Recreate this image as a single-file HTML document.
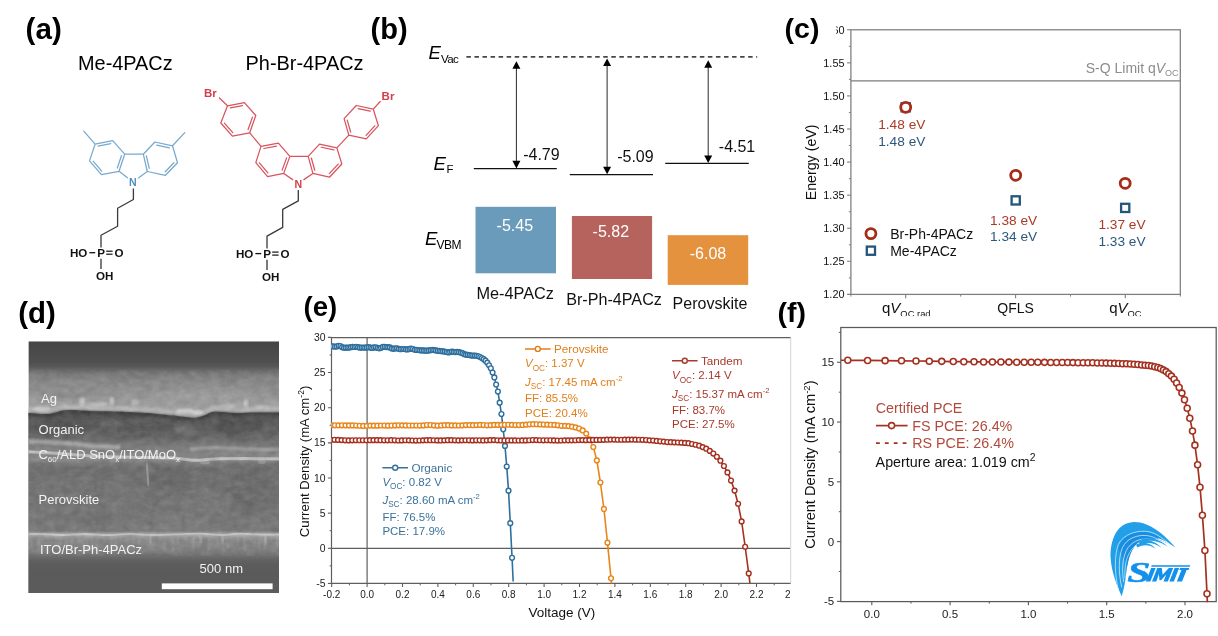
<!DOCTYPE html>
<html><head><meta charset="utf-8"><title>figure</title>
<style>
html,body{margin:0;padding:0;background:#fff;}
body{width:1218px;height:636px;overflow:hidden;font-family:"Liberation Sans",sans-serif;}
svg{display:block;font-family:"Liberation Sans",sans-serif;opacity:0.999;}
</style></head><body>
<svg width="1218" height="636" viewBox="0 0 1218 636">
<defs>
<clipPath id="clipc"><rect x="800" y="0" width="418" height="316.3"/></clipPath>
<linearGradient id="semtop" gradientUnits="userSpaceOnUse" x1="0" y1="341.3" x2="0" y2="592.9"><stop offset="0.0000" stop-color="#454545"/><stop offset="0.0346" stop-color="#494949"/><stop offset="0.0823" stop-color="#4f4f4f"/><stop offset="0.1002" stop-color="#585858"/><stop offset="0.1161" stop-color="#6a6a6a"/><stop offset="0.1320" stop-color="#7c7c7c"/><stop offset="0.1498" stop-color="#868686"/><stop offset="0.1816" stop-color="#8e8e8e"/><stop offset="0.2174" stop-color="#979797"/><stop offset="0.2492" stop-color="#9f9f9f"/><stop offset="0.2810" stop-color="#a3a3a3"/><stop offset="0.3207" stop-color="#a3a3a3"/></linearGradient>
<linearGradient id="sembot" gradientUnits="userSpaceOnUse" x1="0" y1="341.3" x2="0" y2="592.9"><stop offset="0.2492" stop-color="#4e4e4e"/><stop offset="0.2890" stop-color="#505050"/><stop offset="0.3128" stop-color="#575757"/><stop offset="0.3525" stop-color="#5e5e5e"/><stop offset="0.3843" stop-color="#666666"/><stop offset="0.4042" stop-color="#747474"/><stop offset="0.4241" stop-color="#7e7e7e"/><stop offset="0.4479" stop-color="#868686"/><stop offset="0.4718" stop-color="#8a8a8a"/><stop offset="0.4857" stop-color="#787878"/><stop offset="0.5036" stop-color="#6f6f6f"/><stop offset="0.5513" stop-color="#717171"/><stop offset="0.6308" stop-color="#747474"/><stop offset="0.7103" stop-color="#777777"/><stop offset="0.7540" stop-color="#7b7b7b"/><stop offset="0.7619" stop-color="#9a9a9a"/><stop offset="0.7699" stop-color="#adadad"/><stop offset="0.7786" stop-color="#979797"/><stop offset="0.7897" stop-color="#888888"/><stop offset="0.8215" stop-color="#838383"/><stop offset="0.8394" stop-color="#7c7c7c"/><stop offset="0.8533" stop-color="#6e6e6e"/><stop offset="0.8692" stop-color="#626262"/><stop offset="0.8891" stop-color="#5c5c5c"/><stop offset="0.9289" stop-color="#5a5a5a"/><stop offset="1.0000" stop-color="#5c5c5c"/></linearGradient>
<clipPath id="clipd"><rect x="28.4" y="341.3" width="250.6" height="251.6"/></clipPath>
<filter id="b05" x="-5%" y="-80%" width="110%" height="260%"><feGaussianBlur stdDeviation="0.6"/></filter>
<filter id="b1" x="-5%" y="-80%" width="110%" height="260%"><feGaussianBlur stdDeviation="1.1"/></filter>
<filter id="b2" x="-10%" y="-80%" width="120%" height="260%"><feGaussianBlur stdDeviation="2.2"/></filter>
<filter id="b4" x="-10%" y="-80%" width="120%" height="260%"><feGaussianBlur stdDeviation="4"/></filter>
<filter id="semnoise" x="0" y="0" width="100%" height="100%"><feTurbulence type="fractalNoise" baseFrequency="0.11 0.16" numOctaves="3" seed="11" result="n"/><feColorMatrix type="matrix" values="0 0 0 0 1  0 0 0 0 1  0 0 0 0 1  1.1 1.1 1.1 0 -1.25"/><feGaussianBlur stdDeviation="0.7"/></filter>
<filter id="semnoise2" x="0" y="0" width="100%" height="100%"><feTurbulence type="fractalNoise" baseFrequency="0.10 0.15" numOctaves="3" seed="29" result="n"/><feColorMatrix type="matrix" values="0 0 0 0 0  0 0 0 0 0  0 0 0 0 0  1.1 1.1 1.1 0 -1.25"/><feGaussianBlur stdDeviation="0.7"/></filter>
<clipPath id="clipe"><rect x="290" y="330" width="500.8" height="306"/></clipPath>
<clipPath id="clipeplot"><rect x="331.5" y="337.6" width="459.3" height="245.8"/></clipPath>
<clipPath id="clipf"><rect x="840.8" y="327.5" width="375.4" height="274.7"/></clipPath>
</defs>
<rect x="0" y="0" width="1218" height="636" fill="#fff"/>
<g id="panel-a">
<text x="25.6" y="38.6" font-size="29.6" fill="#000" font-weight="bold">(a)</text>
<text x="78" y="69.6" font-size="19.9" fill="#000">Me-4PACz</text>
<text x="245.6" y="69.6" font-size="19.9" fill="#000">Ph-Br-4PACz</text>
<path d="M95.1 144.1 L112.7 140.7 L124.7 154.2 L119 171.3 L101.4 174.7 L89.5 160.9 Z M172.5 145.8 L154.9 142 L143.3 154.2 L147.3 171.5 L165.5 175.3 L177.5 162.7 Z M124.7 154.2 L143.3 154.2 M119 171.3 L127.49 177.78 M147.3 171.5 L138.41 177.92 M98.09 146.17 L110.76 143.72 M121.44 155.75 L117.34 168.06 M101.69 171.06 L93.12 161.12 M169.43 147.8 L156.76 145.06 M146.36 155.9 L149.24 168.36 M165.27 171.78 L173.91 162.7 M95.1 144.1 L83.8 131.1 M172.5 145.8 L184.8 132.6" fill="none" stroke="#78a9cc" stroke-width="1.25" stroke-linecap="round" stroke-linejoin="round"/>
<text x="132.9" y="185.9" font-size="10.6" fill="#4e8fbc" font-weight="bold" text-anchor="middle">N</text>
<path d="M133.4 188.6 L133.4 199.5 L117.6 208.2 L117.6 226.3 L101 235.3 L101 247.6" fill="none" stroke="#3a3a3a" stroke-width="1.3" stroke-linejoin="round"/>
<path d="M261 146.4 L278.4 143.2 L289.9 156.4 L283.7 173.4 L267.6 176.6 L255.8 162.6 Z M336.9 147.9 L319.5 144.2 L308.2 156.4 L312.9 173.4 L329.5 177.2 L341.8 164 Z M289.9 156.4 L308.2 156.4 M283.7 173.4 L292.71 179.63 M312.9 173.4 L303.89 179.63 M263.95 148.5 L276.48 146.2 M286.59 157.89 L282.13 170.13 M267.89 172.91 L259.39 162.83 M333.87 149.91 L321.34 147.25 M311.34 158.02 L314.73 170.26 M329.32 173.58 L338.17 164.08 M227.5 105.8 L244.4 102.6 L255.8 115.5 L249.7 132.8 L232.4 136.2 L220.8 123 Z M373.3 109.2 L356.3 105.5 L344.1 118.7 L348.8 135.1 L366.3 138.9 L378.4 125.7 Z M249.7 132.8 L261.0 146.4 M348.8 135.1 L336.9 147.9 M227.5 105.8 L219.4 98.0 M373.3 109.2 L380.2 101.5 M230.29 107.92 L242.46 105.61 M252.48 117.09 L248.09 129.55 M232.74 132.65 L224.39 123.14 M370.31 111.21 L358.07 108.54 M347.23 120.2 L350.62 132.01 M366.07 135.3 L374.78 125.8" fill="none" stroke="#d8545e" stroke-width="1.25" stroke-linecap="round" stroke-linejoin="round"/>
<text x="298.3" y="187.5" font-size="10.6" fill="#d23f4b" font-weight="bold" text-anchor="middle">N</text>
<path d="M298.3 190 L298.3 200.9 L282.7 209.4 L282.7 227.4 L267 236.1 L267 248.4" fill="none" stroke="#3a3a3a" stroke-width="1.3" stroke-linejoin="round"/>
<text x="204" y="97.4" font-size="11.5" fill="#d23f4b" font-weight="bold">Br</text>
<text x="381.6" y="100.3" font-size="11.5" fill="#d23f4b" font-weight="bold">Br</text>
<text x="101" y="256.8" font-size="11.6" fill="#111" font-weight="bold" text-anchor="middle">P</text>
<text x="87.4" y="256.8" font-size="11.6" fill="#111" font-weight="bold" text-anchor="end">HO</text>
<text x="114.4" y="256.8" font-size="11.6" fill="#111" font-weight="bold">O</text>
<line x1="89.4" y1="252.7" x2="95.2" y2="252.7" stroke="#111" stroke-width="1.3"/>
<line x1="106.2" y1="251.2" x2="112.6" y2="251.2" stroke="#111" stroke-width="1.2"/>
<line x1="106.2" y1="254.2" x2="112.6" y2="254.2" stroke="#111" stroke-width="1.2"/>
<line x1="101" y1="258.8" x2="101" y2="269" stroke="#333" stroke-width="1.3"/>
<text x="96" y="279.8" font-size="11.6" fill="#111" font-weight="bold">OH</text>
<text x="267" y="257.7" font-size="11.6" fill="#111" font-weight="bold" text-anchor="middle">P</text>
<text x="253.4" y="257.7" font-size="11.6" fill="#111" font-weight="bold" text-anchor="end">HO</text>
<text x="280.4" y="257.7" font-size="11.6" fill="#111" font-weight="bold">O</text>
<line x1="255.4" y1="253.6" x2="261.2" y2="253.6" stroke="#111" stroke-width="1.3"/>
<line x1="272.2" y1="252.1" x2="278.6" y2="252.1" stroke="#111" stroke-width="1.2"/>
<line x1="272.2" y1="255.1" x2="278.6" y2="255.1" stroke="#111" stroke-width="1.2"/>
<line x1="267" y1="259.7" x2="267" y2="269.9" stroke="#333" stroke-width="1.3"/>
<text x="262" y="280.7" font-size="11.6" fill="#111" font-weight="bold">OH</text>
</g>
<g id="panel-b">
<text x="370.6" y="39" font-size="29" fill="#000" font-weight="bold">(b)</text>
<text x="428.6" y="58.8" font-size="18.5" fill="#000" font-style="italic">E</text>
<text x="441" y="63.4" font-size="11.6" fill="#000" letter-spacing="-0.6">Vac</text>
<line x1="466.4" y1="56.9" x2="757.2" y2="56.9" stroke="#474747" stroke-width="1.65" stroke-dasharray="4.5 3.55"/>
<text x="433.6" y="169.9" font-size="18.5" fill="#000" font-style="italic">E</text>
<text x="446.6" y="173.3" font-size="11.4" fill="#000">F</text>
<text x="425" y="245.3" font-size="18.5" fill="#000" font-style="italic">E</text>
<text x="436.6" y="248.9" font-size="12" fill="#000" letter-spacing="-0.5">VBM</text>
<line x1="473.8" y1="168.7" x2="556.8" y2="168.7" stroke="#111" stroke-width="1.25"/>
<line x1="569.8" y1="174.6" x2="653" y2="174.6" stroke="#111" stroke-width="1.25"/>
<line x1="665.2" y1="163.4" x2="748.8" y2="163.4" stroke="#111" stroke-width="1.25"/>
<line x1="516.4" y1="67.8" x2="516.4" y2="161.8" stroke="#111" stroke-width="0.9"/>
<path d="M516.4 61.2 l-4 7.6 l8 0 Z" fill="#000"/>
<path d="M516.4 168.4 l-4 -7.6 l8 0 Z" fill="#000"/>
<line x1="607.1" y1="65" x2="607.1" y2="167.7" stroke="#111" stroke-width="0.9"/>
<path d="M607.1 58.4 l-4 7.6 l8 0 Z" fill="#000"/>
<path d="M607.1 174.3 l-4 -7.6 l8 0 Z" fill="#000"/>
<line x1="708.2" y1="66.8" x2="708.2" y2="156.5" stroke="#111" stroke-width="0.9"/>
<path d="M708.2 60.2 l-4 7.6 l8 0 Z" fill="#000"/>
<path d="M708.2 163.1 l-4 -7.6 l8 0 Z" fill="#000"/>
<text x="523.2" y="160" font-size="16" fill="#111">-4.79</text>
<text x="617.2" y="162.2" font-size="16" fill="#111">-5.09</text>
<text x="718.8" y="151.8" font-size="16" fill="#111">-4.51</text>
<rect x="475.5" y="206.8" width="80.5" height="66.5" fill="#6a9bba"/>
<rect x="571.9" y="216" width="80.2" height="63" fill="#b6625d"/>
<rect x="667.7" y="235.2" width="80.5" height="49.7" fill="#e4923e"/>
<text x="514.8" y="230.6" font-size="16" fill="#fff" text-anchor="middle">-5.45</text>
<text x="610.8" y="236.6" font-size="16" fill="#fff" text-anchor="middle">-5.82</text>
<text x="708" y="258.7" font-size="16" fill="#fff" text-anchor="middle">-6.08</text>
<text x="476.4" y="298.6" font-size="16.3" fill="#111">Me-4PACz</text>
<text x="566.2" y="305" font-size="16.15" fill="#111">Br-Ph-4PACz</text>
<text x="672.6" y="308.9" font-size="16" fill="#111">Perovskite</text>
</g>
<g id="panel-c" clip-path="url(#clipc)">
<rect x="850.9" y="29.8" width="329.4" height="264.6" fill="none" stroke="#7d7d7d" stroke-width="1.25"/>
<line x1="850.9" y1="80.9" x2="1180.3" y2="80.9" stroke="#7d7d7d" stroke-width="1.4"/>
<line x1="847.1" y1="294.4" x2="850.9" y2="294.4" stroke="#7d7d7d" stroke-width="1.1"/>
<text x="844.5" y="298.3" font-size="10.9" fill="#111" text-anchor="end">1.20</text>
<line x1="847.1" y1="261.32" x2="850.9" y2="261.32" stroke="#7d7d7d" stroke-width="1.1"/>
<text x="844.5" y="265.22" font-size="10.9" fill="#111" text-anchor="end">1.25</text>
<line x1="847.1" y1="228.24" x2="850.9" y2="228.24" stroke="#7d7d7d" stroke-width="1.1"/>
<text x="844.5" y="232.14" font-size="10.9" fill="#111" text-anchor="end">1.30</text>
<line x1="847.1" y1="195.16" x2="850.9" y2="195.16" stroke="#7d7d7d" stroke-width="1.1"/>
<text x="844.5" y="199.06" font-size="10.9" fill="#111" text-anchor="end">1.35</text>
<line x1="847.1" y1="162.08" x2="850.9" y2="162.08" stroke="#7d7d7d" stroke-width="1.1"/>
<text x="844.5" y="165.98" font-size="10.9" fill="#111" text-anchor="end">1.40</text>
<line x1="847.1" y1="129" x2="850.9" y2="129" stroke="#7d7d7d" stroke-width="1.1"/>
<text x="844.5" y="132.9" font-size="10.9" fill="#111" text-anchor="end">1.45</text>
<line x1="847.1" y1="95.92" x2="850.9" y2="95.92" stroke="#7d7d7d" stroke-width="1.1"/>
<text x="844.5" y="99.82" font-size="10.9" fill="#111" text-anchor="end">1.50</text>
<line x1="847.1" y1="62.84" x2="850.9" y2="62.84" stroke="#7d7d7d" stroke-width="1.1"/>
<text x="844.5" y="66.74" font-size="10.9" fill="#111" text-anchor="end">1.55</text>
<line x1="847.1" y1="29.76" x2="850.9" y2="29.76" stroke="#7d7d7d" stroke-width="1.1"/>
<text x="844.5" y="33.66" font-size="10.9" fill="#111" text-anchor="end">1.60</text>
<line x1="848.9" y1="277.86" x2="850.9" y2="277.86" stroke="#7d7d7d" stroke-width="1"/>
<line x1="848.9" y1="244.78" x2="850.9" y2="244.78" stroke="#7d7d7d" stroke-width="1"/>
<line x1="848.9" y1="211.7" x2="850.9" y2="211.7" stroke="#7d7d7d" stroke-width="1"/>
<line x1="848.9" y1="178.62" x2="850.9" y2="178.62" stroke="#7d7d7d" stroke-width="1"/>
<line x1="848.9" y1="145.54" x2="850.9" y2="145.54" stroke="#7d7d7d" stroke-width="1"/>
<line x1="848.9" y1="112.46" x2="850.9" y2="112.46" stroke="#7d7d7d" stroke-width="1"/>
<line x1="848.9" y1="79.38" x2="850.9" y2="79.38" stroke="#7d7d7d" stroke-width="1"/>
<line x1="848.9" y1="46.3" x2="850.9" y2="46.3" stroke="#7d7d7d" stroke-width="1"/>
<line x1="905.7" y1="294.4" x2="905.7" y2="298.2" stroke="#7d7d7d" stroke-width="1.1"/>
<line x1="1015.6" y1="294.4" x2="1015.6" y2="298.2" stroke="#7d7d7d" stroke-width="1.1"/>
<line x1="1125.3" y1="294.4" x2="1125.3" y2="298.2" stroke="#7d7d7d" stroke-width="1.1"/>
<line x1="960.7" y1="294.4" x2="960.7" y2="296.6" stroke="#7d7d7d" stroke-width="1"/>
<line x1="1070.5" y1="294.4" x2="1070.5" y2="296.6" stroke="#7d7d7d" stroke-width="1"/>
<line x1="1180.3" y1="294.4" x2="1180.3" y2="296.6" stroke="#7d7d7d" stroke-width="1"/>
<line x1="850.9" y1="294.4" x2="850.9" y2="296.6" stroke="#7d7d7d" stroke-width="1"/>
<text x="882" y="313.4" font-size="15" fill="#111">q<tspan font-style="italic">V</tspan><tspan font-size="9.4" dy="3.7">OC.rad</tspan></text>
<text x="1015.6" y="313" font-size="14" fill="#111" text-anchor="middle">QFLS</text>
<text x="1109.2" y="313.4" font-size="15" fill="#111">q<tspan font-style="italic">V</tspan><tspan font-size="9.4" dy="3.7">OC</tspan></text>
<text x="0" y="0" font-size="14.2" fill="#111" text-anchor="middle" transform="translate(815.9 162.4) rotate(-90)">Energy (eV)</text>
<text x="1178.6" y="73" font-size="14" fill="#8c8c8c" text-anchor="end">S-Q Limit q<tspan font-style="italic">V</tspan><tspan font-size="9" dy="2.8">OC</tspan></text>
<rect x="901.6" y="103.2" width="8.2" height="8.2" fill="#fff" stroke="#24557a" stroke-width="2.3"/>
<circle cx="905.7" cy="107.3" r="5.0" fill="#fff" stroke="#a62c18" stroke-width="2.8"/>
<circle cx="1015.7" cy="175.3" r="5.0" fill="#fff" stroke="#a62c18" stroke-width="2.8"/>
<rect x="1011.6" y="196.3" width="8.2" height="8.2" fill="#fff" stroke="#24557a" stroke-width="2.3"/>
<circle cx="1125.2" cy="183.3" r="5.0" fill="#fff" stroke="#a62c18" stroke-width="2.8"/>
<rect x="1121.1" y="203.8" width="8.2" height="8.2" fill="#fff" stroke="#24557a" stroke-width="2.3"/>
<circle cx="870.9" cy="233.6" r="5.0" fill="#fff" stroke="#a62c18" stroke-width="2.8"/>
<rect x="866.8" y="246.6" width="8.2" height="8.2" fill="#fff" stroke="#24557a" stroke-width="2.3"/>
<text x="890.2" y="238.6" font-size="14" fill="#111">Br-Ph-4PACz</text>
<text x="890.2" y="255.6" font-size="14" fill="#111">Me-4PACz</text>
<text x="901.8" y="129.4" font-size="13.7" fill="#ab3a26" text-anchor="middle">1.48 eV</text>
<text x="901.8" y="146" font-size="13.7" fill="#2d587c" text-anchor="middle">1.48 eV</text>
<text x="1013.6" y="225" font-size="13.7" fill="#ab3a26" text-anchor="middle">1.38 eV</text>
<text x="1013.6" y="241" font-size="13.7" fill="#2d587c" text-anchor="middle">1.34 eV</text>
<text x="1122" y="229.2" font-size="13.7" fill="#ab3a26" text-anchor="middle">1.37 eV</text>
<text x="1122" y="245.8" font-size="13.7" fill="#2d587c" text-anchor="middle">1.33 eV</text>
</g>
<rect x="780" y="0" width="56.2" height="40" fill="#fff"/>
<text x="784.6" y="37.6" font-size="28.5" fill="#000" font-weight="bold">(c)</text>
<g id="panel-d">
<text x="18.2" y="323.2" font-size="29.4" fill="#000" font-weight="bold">(d)</text>
<g clip-path="url(#clipd)">
<rect x="28.4" y="341.3" width="250.6" height="251.6" fill="url(#semtop)"/>
<path d="M20 409.6 C21.33 409.63 23.22 409.6 28 409.8 C32.78 410 42.5 411.27 48.7 410.8 C54.9 410.33 58.32 407.5 65.2 407 C72.08 406.5 80.7 407.53 90 407.8 C99.3 408.07 110.67 408.2 121 408.6 C131.33 409 143.37 409.57 152 410.2 C160.63 410.83 165.88 411.67 172.8 412.4 C179.72 413.13 188.32 414.57 193.5 414.6 C198.68 414.63 200.45 413.6 203.9 412.6 C207.35 411.6 209.03 409.08 214.2 408.6 C219.37 408.12 228 409.6 234.9 409.7 C241.8 409.8 248.08 409.27 255.6 409.2 C263.12 409.13 274.27 409.28 280 409.3 C285.73 409.32 288.33 409.3 290 409.3" fill="none" stroke="#bdbdbd" stroke-width="5" filter="url(#b1)" opacity="0.75"/>
<ellipse cx="82" cy="402" rx="3" ry="4.5" fill="#dedede" opacity="0.65" filter="url(#b1)"/>
<ellipse cx="112" cy="401.5" rx="2.6" ry="4.5" fill="#dedede" opacity="0.6" filter="url(#b1)"/>
<ellipse cx="97" cy="404" rx="12" ry="2.2" fill="#dedede" opacity="0.5" filter="url(#b1)"/>
<ellipse cx="185" cy="411" rx="9" ry="2.6" fill="#dedede" opacity="0.75" filter="url(#b1)"/>
<ellipse cx="198" cy="412.5" rx="6" ry="2.4" fill="#dedede" opacity="0.7" filter="url(#b1)"/>
<ellipse cx="246" cy="403" rx="2.6" ry="4" fill="#dedede" opacity="0.55" filter="url(#b1)"/>
<ellipse cx="42" cy="408.5" rx="9" ry="2.4" fill="#dedede" opacity="0.55" filter="url(#b1)"/>
<ellipse cx="135" cy="402" rx="4" ry="3" fill="#dedede" opacity="0.4" filter="url(#b1)"/>
<ellipse cx="228" cy="406" rx="8" ry="2.4" fill="#dedede" opacity="0.4" filter="url(#b1)"/>
<ellipse cx="262" cy="407" rx="8" ry="2.2" fill="#dedede" opacity="0.4" filter="url(#b1)"/>
<ellipse cx="70" cy="392" rx="34" ry="6" fill="#868686" opacity="0.35" filter="url(#b2)"/>
<ellipse cx="200" cy="394" rx="50" ry="7" fill="#a8a8a8" opacity="0.35" filter="url(#b2)"/>
<path d="M20 412.8 C21.33 412.83 23.22 412.8 28 413 C32.78 413.2 42.5 414.47 48.7 414 C54.9 413.53 58.32 410.7 65.2 410.2 C72.08 409.7 80.7 410.73 90 411 C99.3 411.27 110.67 411.4 121 411.8 C131.33 412.2 143.37 412.77 152 413.4 C160.63 414.03 165.88 414.87 172.8 415.6 C179.72 416.33 188.32 417.77 193.5 417.8 C198.68 417.83 200.45 416.8 203.9 415.8 C207.35 414.8 209.03 412.28 214.2 411.8 C219.37 411.32 228 412.8 234.9 412.9 C241.8 413 248.08 412.47 255.6 412.4 C263.12 412.33 274.27 412.48 280 412.5 C285.73 412.52 288.33 412.5 290 412.5 L290 600 L20 600 Z" fill="url(#sembot)"/>
<path d="M20 414.1 C21.33 414.13 23.22 414.1 28 414.3 C32.78 414.5 42.5 415.77 48.7 415.3 C54.9 414.83 58.32 412 65.2 411.5 C72.08 411 80.7 412.03 90 412.3 C99.3 412.57 110.67 412.7 121 413.1 C131.33 413.5 143.37 414.07 152 414.7 C160.63 415.33 165.88 416.17 172.8 416.9 C179.72 417.63 188.32 419.07 193.5 419.1 C198.68 419.13 200.45 418.1 203.9 417.1 C207.35 416.1 209.03 413.58 214.2 413.1 C219.37 412.62 228 414.1 234.9 414.2 C241.8 414.3 248.08 413.77 255.6 413.7 C263.12 413.63 274.27 413.78 280 413.8 C285.73 413.82 288.33 413.8 290 413.8" fill="none" stroke="#3a3a3a" stroke-width="2.6" filter="url(#b1)" opacity="0.8"/>
<ellipse cx="60" cy="426" rx="26" ry="7" fill="#505050" opacity="0.45" filter="url(#b2)"/>
<ellipse cx="150" cy="431" rx="36" ry="6" fill="#585858" opacity="0.4" filter="url(#b2)"/>
<ellipse cx="240" cy="427" rx="28" ry="8" fill="#4d4d4d" opacity="0.5" filter="url(#b2)"/>
<ellipse cx="185" cy="430" rx="11" ry="6" fill="#7e7e7e" opacity="0.5" filter="url(#b2)"/>
<ellipse cx="262" cy="434" rx="8" ry="5" fill="#7c7c7c" opacity="0.4" filter="url(#b2)"/>
<ellipse cx="112" cy="425" rx="12" ry="5" fill="#767676" opacity="0.35" filter="url(#b2)"/>
<ellipse cx="215" cy="437" rx="12" ry="4" fill="#787878" opacity="0.4" filter="url(#b2)"/>
<ellipse cx="90" cy="437" rx="16" ry="4" fill="#787878" opacity="0.3" filter="url(#b2)"/>
<path d="M20 451.4 C21.33 451.45 21.33 451.33 28 451.7 C34.67 452.07 49.67 452.9 60 453.6 C70.33 454.3 78.33 455.3 90 455.9 C101.67 456.5 116.2 456.87 130 457.2 C143.8 457.53 162.22 457.4 172.8 457.9 C183.38 458.4 186.63 460.02 193.5 460.2 C200.37 460.38 205.42 459.27 214 459 C222.58 458.73 234 458.6 245 458.6 C256 458.6 272.5 458.93 280 459 C287.5 459.07 288.33 459 290 459" fill="none" stroke="#c6c6c6" stroke-width="3.0" filter="url(#b05)" opacity="0.9"/>
<path d="M20 441.2 C21.33 441.23 19.77 441.02 28 441.4 C36.23 441.78 58.23 442.73 69.4 443.5 C80.57 444.27 86.57 445.33 95 446 C103.43 446.67 115.83 447.25 120 447.5" fill="none" stroke="#b0b0b0" stroke-width="4.6" filter="url(#b1)" opacity="0.85"/>
<path d="M190 449.5 C194 449.18 204 447.68 214 447.6 C224 447.52 239 448.63 250 449 C261 449.37 273.33 449.63 280 449.8 C286.67 449.97 288.33 449.97 290 450" fill="none" stroke="#acacac" stroke-width="3.0" filter="url(#b1)" opacity="0.8"/>
<ellipse cx="262" cy="462" rx="4" ry="2" fill="#c8c8c8" opacity="0.3" filter="url(#b05)"/>
<ellipse cx="205" cy="462.5" rx="5" ry="1.8" fill="#c8c8c8" opacity="0.3" filter="url(#b05)"/>
<ellipse cx="55" cy="497" rx="22" ry="22" fill="#7b7b7b" opacity="0.35" filter="url(#b2)"/>
<ellipse cx="86" cy="486" rx="14" ry="12" fill="#7c7c7c" opacity="0.3" filter="url(#b2)"/>
<ellipse cx="118" cy="500" rx="16" ry="30" fill="#7d7d7d" opacity="0.3" filter="url(#b2)"/>
<ellipse cx="172" cy="478" rx="22" ry="12" fill="#636363" opacity="0.4" filter="url(#b2)"/>
<ellipse cx="205" cy="503" rx="28" ry="18" fill="#7d7d7d" opacity="0.4" filter="url(#b2)"/>
<ellipse cx="252" cy="492" rx="22" ry="26" fill="#666666" opacity="0.35" filter="url(#b2)"/>
<ellipse cx="170" cy="521" rx="12" ry="9" fill="#858585" opacity="0.45" filter="url(#b2)"/>
<ellipse cx="193" cy="524" rx="9" ry="8" fill="#888888" opacity="0.4" filter="url(#b2)"/>
<ellipse cx="98" cy="520" rx="18" ry="9" fill="#686868" opacity="0.3" filter="url(#b2)"/>
<ellipse cx="262" cy="522" rx="14" ry="9" fill="#808080" opacity="0.35" filter="url(#b2)"/>
<ellipse cx="40" cy="522" rx="10" ry="9" fill="#7e7e7e" opacity="0.3" filter="url(#b2)"/>
<path d="M146.6 463 L148.6 486" stroke="#a2a2a2" stroke-width="2.2" fill="none" filter="url(#b05)" opacity="0.7"/>
<path d="M96 466 C92 490 100 510 96 532 M158 500 C150 512 152 522 150 532 M158 500 C176 494 196 484 214 486 C232 488 238 500 252 506" fill="none" stroke="#5c5c5c" stroke-width="1.6" opacity="0.3" filter="url(#b1)"/>
<path d="M20 534.6 C23.33 534.47 33 533.73 40 533.8 C47 533.87 54.5 534.97 62 535 C69.5 535.03 77 533.97 85 534 C93 534.03 102.5 535.23 110 535.2 C117.5 535.17 123.33 533.83 130 533.8 C136.67 533.77 142.5 534.9 150 535 C157.5 535.1 166.67 534.63 175 534.4 C183.33 534.17 192.17 533.5 200 533.6 C207.83 533.7 215.33 535 222 535 C228.67 535 233.33 533.67 240 533.6 C246.67 533.53 253.67 534.5 262 534.6 C270.33 534.7 285.33 534.27 290 534.2" fill="none" stroke="#cacaca" stroke-width="1.8" filter="url(#b05)" opacity="0.9"/>
<path d="M31 535.5 l0.39 12.47 M38.87 535.5 l0.38 16.31 M47.45 535.5 l-0.06 5.35 M56.13 535.5 l0.64 12.79 M60.26 535.5 l-0.41 10.63 M66.75 535.5 l-0.78 11.89 M71.44 535.5 l0.67 8.35 M79.15 535.5 l0.48 6.92 M83.41 535.5 l-0.6 12.41 M86.92 535.5 l-0.46 15.46 M91.61 535.5 l0.6 16.79 M96.7 535.5 l0.06 16.54 M103.93 535.5 l0.71 7.46 M111.23 535.5 l0.63 16.6 M116.37 535.5 l-0.53 9.33 M120.67 535.5 l-0.32 5.78 M127.49 535.5 l0.28 5.04 M132.85 535.5 l0.51 8.72 M138.99 535.5 l-0.03 8.79 M146.37 535.5 l0.76 5.68 M149.99 535.5 l0.55 14 M153.59 535.5 l-0.21 14.45 M160.27 535.5 l-0.73 5.11 M164.77 535.5 l-0.49 16.46 M172.43 535.5 l0.71 16.16 M177.82 535.5 l0.04 9.26 M185.59 535.5 l0.4 6.3 M193.47 535.5 l-0.74 15.32 M202.17 535.5 l-0.25 6.09 M209.03 535.5 l-0.26 16.02 M217.62 535.5 l-0.3 11.54 M222.86 535.5 l-0.67 7.13 M227.18 535.5 l0.79 13.27 M231.56 535.5 l0.78 5.58 M238 535.5 l-0.42 9.87 M244.77 535.5 l-0.07 14.92 M250.59 535.5 l0.67 5.67 M254.27 535.5 l0.54 10.92 M258.48 535.5 l0.72 13.78 M265.45 535.5 l-0.63 14.46 M271.34 535.5 l0.55 6.79 M276.46 535.5 l0.8 10.44" fill="none" stroke="#b0b0b0" stroke-width="1.9" opacity="0.38" filter="url(#b1)"/>
<path d="M222 534.5 l1 9" stroke="#d0d0d0" stroke-width="1.8" opacity="0.5" filter="url(#b1)"/>
<path d="M200 534.5 l1 9" stroke="#d0d0d0" stroke-width="1.8" opacity="0.5" filter="url(#b1)"/>
<path d="M265 534.5 l1 9" stroke="#d0d0d0" stroke-width="1.8" opacity="0.5" filter="url(#b1)"/>
<path d="M150 534.5 l1 9" stroke="#d0d0d0" stroke-width="1.8" opacity="0.5" filter="url(#b1)"/>
<rect x="28.4" y="370" width="250.6" height="186" fill="#fff" filter="url(#semnoise)" opacity="0.085"/>
<rect x="28.4" y="370" width="250.6" height="186" fill="#000" filter="url(#semnoise2)" opacity="0.075"/>
</g>
<text x="41" y="403" font-size="13" fill="#f2f2f2">Ag</text>
<text x="38.6" y="434.2" font-size="13" fill="#f2f2f2">Organic</text>
<text x="38.4" y="458.8" font-size="13" fill="#f2f2f2">C<tspan font-size="8" dy="3">60</tspan><tspan dy="-3">/ALD SnO</tspan><tspan font-size="8" dy="3">x</tspan><tspan dy="-3">/ITO/MoO</tspan><tspan font-size="8" dy="3">x</tspan></text>
<text x="38.6" y="504" font-size="13" fill="#f2f2f2">Perovskite</text>
<text x="40" y="554" font-size="13" fill="#f2f2f2">ITO/Br-Ph-4PACz</text>
<text x="199.6" y="573.4" font-size="13" fill="#f2f2f2">500 nm</text>
<rect x="161.8" y="583.4" width="110.8" height="5.8" fill="#ffffff"/>
</g>
<g id="panel-e" clip-path="url(#clipe)">
<path d="M830.7 337.6 L331.5 337.6 L331.5 583.4 L830.7 583.4" fill="none" stroke="#5f5f5f" stroke-width="1.2"/>
<line x1="367.1" y1="337.6" x2="367.1" y2="583.4" stroke="#5f5f5f" stroke-width="1.2"/>
<line x1="331.5" y1="548.3" x2="790.7" y2="548.3" stroke="#5f5f5f" stroke-width="1.2"/>
<line x1="331.7" y1="583.4" x2="331.7" y2="587" stroke="#5f5f5f" stroke-width="1.1"/>
<text x="331.7" y="597.6" font-size="10" fill="#222" text-anchor="middle">-0.2</text>
<line x1="349.4" y1="583.4" x2="349.4" y2="585.3" stroke="#5f5f5f" stroke-width="1"/>
<line x1="367.1" y1="583.4" x2="367.1" y2="587" stroke="#5f5f5f" stroke-width="1.1"/>
<text x="367.1" y="597.6" font-size="10" fill="#222" text-anchor="middle">0.0</text>
<line x1="384.8" y1="583.4" x2="384.8" y2="585.3" stroke="#5f5f5f" stroke-width="1"/>
<line x1="402.5" y1="583.4" x2="402.5" y2="587" stroke="#5f5f5f" stroke-width="1.1"/>
<text x="402.5" y="597.6" font-size="10" fill="#222" text-anchor="middle">0.2</text>
<line x1="420.2" y1="583.4" x2="420.2" y2="585.3" stroke="#5f5f5f" stroke-width="1"/>
<line x1="437.9" y1="583.4" x2="437.9" y2="587" stroke="#5f5f5f" stroke-width="1.1"/>
<text x="437.9" y="597.6" font-size="10" fill="#222" text-anchor="middle">0.4</text>
<line x1="455.6" y1="583.4" x2="455.6" y2="585.3" stroke="#5f5f5f" stroke-width="1"/>
<line x1="473.3" y1="583.4" x2="473.3" y2="587" stroke="#5f5f5f" stroke-width="1.1"/>
<text x="473.3" y="597.6" font-size="10" fill="#222" text-anchor="middle">0.6</text>
<line x1="491" y1="583.4" x2="491" y2="585.3" stroke="#5f5f5f" stroke-width="1"/>
<line x1="508.7" y1="583.4" x2="508.7" y2="587" stroke="#5f5f5f" stroke-width="1.1"/>
<text x="508.7" y="597.6" font-size="10" fill="#222" text-anchor="middle">0.8</text>
<line x1="526.4" y1="583.4" x2="526.4" y2="585.3" stroke="#5f5f5f" stroke-width="1"/>
<line x1="544.1" y1="583.4" x2="544.1" y2="587" stroke="#5f5f5f" stroke-width="1.1"/>
<text x="544.1" y="597.6" font-size="10" fill="#222" text-anchor="middle">1.0</text>
<line x1="561.8" y1="583.4" x2="561.8" y2="585.3" stroke="#5f5f5f" stroke-width="1"/>
<line x1="579.5" y1="583.4" x2="579.5" y2="587" stroke="#5f5f5f" stroke-width="1.1"/>
<text x="579.5" y="597.6" font-size="10" fill="#222" text-anchor="middle">1.2</text>
<line x1="597.2" y1="583.4" x2="597.2" y2="585.3" stroke="#5f5f5f" stroke-width="1"/>
<line x1="614.9" y1="583.4" x2="614.9" y2="587" stroke="#5f5f5f" stroke-width="1.1"/>
<text x="614.9" y="597.6" font-size="10" fill="#222" text-anchor="middle">1.4</text>
<line x1="632.6" y1="583.4" x2="632.6" y2="585.3" stroke="#5f5f5f" stroke-width="1"/>
<line x1="650.3" y1="583.4" x2="650.3" y2="587" stroke="#5f5f5f" stroke-width="1.1"/>
<text x="650.3" y="597.6" font-size="10" fill="#222" text-anchor="middle">1.6</text>
<line x1="668" y1="583.4" x2="668" y2="585.3" stroke="#5f5f5f" stroke-width="1"/>
<line x1="685.7" y1="583.4" x2="685.7" y2="587" stroke="#5f5f5f" stroke-width="1.1"/>
<text x="685.7" y="597.6" font-size="10" fill="#222" text-anchor="middle">1.8</text>
<line x1="703.4" y1="583.4" x2="703.4" y2="585.3" stroke="#5f5f5f" stroke-width="1"/>
<line x1="721.1" y1="583.4" x2="721.1" y2="587" stroke="#5f5f5f" stroke-width="1.1"/>
<text x="721.1" y="597.6" font-size="10" fill="#222" text-anchor="middle">2.0</text>
<line x1="738.8" y1="583.4" x2="738.8" y2="585.3" stroke="#5f5f5f" stroke-width="1"/>
<line x1="756.5" y1="583.4" x2="756.5" y2="587" stroke="#5f5f5f" stroke-width="1.1"/>
<text x="756.5" y="597.6" font-size="10" fill="#222" text-anchor="middle">2.2</text>
<line x1="774.2" y1="583.4" x2="774.2" y2="585.3" stroke="#5f5f5f" stroke-width="1"/>
<line x1="791.9" y1="583.4" x2="791.9" y2="587" stroke="#5f5f5f" stroke-width="1.1"/>
<text x="791.9" y="597.6" font-size="10" fill="#222" text-anchor="middle">2.4</text>
<line x1="809.6" y1="583.4" x2="809.6" y2="585.3" stroke="#5f5f5f" stroke-width="1"/>
<line x1="327.9" y1="583.45" x2="331.5" y2="583.45" stroke="#5f5f5f" stroke-width="1.1"/>
<text x="325.5" y="587.05" font-size="10.4" fill="#222" text-anchor="end">-5</text>
<line x1="329.6" y1="565.85" x2="331.5" y2="565.85" stroke="#5f5f5f" stroke-width="1"/>
<line x1="327.9" y1="548.3" x2="331.5" y2="548.3" stroke="#5f5f5f" stroke-width="1.1"/>
<text x="325.5" y="551.9" font-size="10.4" fill="#222" text-anchor="end">0</text>
<line x1="329.6" y1="530.7" x2="331.5" y2="530.7" stroke="#5f5f5f" stroke-width="1"/>
<line x1="327.9" y1="513.15" x2="331.5" y2="513.15" stroke="#5f5f5f" stroke-width="1.1"/>
<text x="325.5" y="516.75" font-size="10.4" fill="#222" text-anchor="end">5</text>
<line x1="329.6" y1="495.55" x2="331.5" y2="495.55" stroke="#5f5f5f" stroke-width="1"/>
<line x1="327.9" y1="478" x2="331.5" y2="478" stroke="#5f5f5f" stroke-width="1.1"/>
<text x="325.5" y="481.6" font-size="10.4" fill="#222" text-anchor="end">10</text>
<line x1="329.6" y1="460.4" x2="331.5" y2="460.4" stroke="#5f5f5f" stroke-width="1"/>
<line x1="327.9" y1="442.85" x2="331.5" y2="442.85" stroke="#5f5f5f" stroke-width="1.1"/>
<text x="325.5" y="446.45" font-size="10.4" fill="#222" text-anchor="end">15</text>
<line x1="329.6" y1="425.25" x2="331.5" y2="425.25" stroke="#5f5f5f" stroke-width="1"/>
<line x1="327.9" y1="407.7" x2="331.5" y2="407.7" stroke="#5f5f5f" stroke-width="1.1"/>
<text x="325.5" y="411.3" font-size="10.4" fill="#222" text-anchor="end">20</text>
<line x1="329.6" y1="390.1" x2="331.5" y2="390.1" stroke="#5f5f5f" stroke-width="1"/>
<line x1="327.9" y1="372.55" x2="331.5" y2="372.55" stroke="#5f5f5f" stroke-width="1.1"/>
<text x="325.5" y="376.15" font-size="10.4" fill="#222" text-anchor="end">25</text>
<line x1="329.6" y1="354.95" x2="331.5" y2="354.95" stroke="#5f5f5f" stroke-width="1"/>
<line x1="327.9" y1="337.4" x2="331.5" y2="337.4" stroke="#5f5f5f" stroke-width="1.1"/>
<text x="325.5" y="341" font-size="10.4" fill="#222" text-anchor="end">30</text>
<text x="561.8" y="617.4" font-size="13.5" fill="#111" text-anchor="middle">Voltage (V)</text>
<text x="0" y="0" font-size="13.15" fill="#111" text-anchor="middle" transform="translate(308.6 461.4) rotate(-90)">Current Density (mA cm<tspan font-size="8.6" dy="-4.6">-2</tspan><tspan dy="4.6">)</tspan></text>
<g clip-path="url(#clipeplot)">
<polyline points="331.52,346.31 333.29,346.37 335.06,346.73 336.83,346.46 338.6,345.76 340.37,346.07 342.14,347.16 343.91,347.75 345.68,347.66 347.45,347.54 349.22,347.58 350.99,347.15 352.76,346.86 354.53,347.01 356.3,346.8 358.07,347.09 359.84,347.63 361.61,347.53 363.38,347.51 365.15,347.64 366.92,347.47 368.69,347.21 370.46,347.55 372.23,347.93 374,347.47 375.77,347.26 377.54,347.92 379.31,348.35 381.08,347.84 382.85,346.96 384.62,346.8 386.39,347.11 388.16,347.11 389.93,347.43 391.7,348.43 393.47,348.85 395.24,348.37 397.01,348.31 398.78,348.84 400.55,349.13 402.32,349 404.09,349.01 405.86,349.33 407.63,349.42 409.4,348.96 411.17,348.56 412.94,348.99 414.71,349.75 416.48,349.97 418.25,350.01 420.02,350.37 421.79,350.46 423.56,350.47 425.33,350.72 427.1,350.69 428.87,350.47 430.64,350.14 432.41,349.96 434.18,350.1 435.95,350.46 437.72,350.8 439.49,350.94 441.26,351.15 443.03,351.35 444.8,351.58 446.57,351.99 448.34,352.47 450.11,352.1 451.88,351.6 453.65,351.97 455.42,352.03 457.19,351.88 458.96,352.17 460.73,352.6 462.5,353.21 464.27,354.13 466.04,354.68 467.81,354.81 469.58,355.12 471.35,355.53 473.12,355.57 474.89,355.6 476.66,355.74 478.43,356.26 480.2,357.06 481.97,358.03 483.74,359.2 485.51,360.68 487.28,362.68 489.05,365.23 490.82,368.24 492.59,372.56 494.36,377.46 496.13,384.49 497.9,391.53 499.67,402.66 501.44,414.01 503.21,429.3 504.98,445.88 506.75,466.57 508.52,490.65 510.29,523.16 512.06,557.81 512.2,560.69 512.34,563.62 512.47,566.57 512.61,569.55 512.74,572.55 512.88,575.55 513.02,578.56 513.15,581.57" fill="none" stroke="#2f6f9d" stroke-width="1.6" stroke-linejoin="round"/>
<g fill="#fff" stroke="#2f6f9d" stroke-width="1.4">
<circle cx="331.52" cy="346.31" r="2.4"/>
<circle cx="333.29" cy="346.37" r="2.4"/>
<circle cx="335.06" cy="346.73" r="2.4"/>
<circle cx="336.83" cy="346.46" r="2.4"/>
<circle cx="338.6" cy="345.76" r="2.4"/>
<circle cx="340.37" cy="346.07" r="2.4"/>
<circle cx="342.14" cy="347.16" r="2.4"/>
<circle cx="343.91" cy="347.75" r="2.4"/>
<circle cx="345.68" cy="347.66" r="2.4"/>
<circle cx="347.45" cy="347.54" r="2.4"/>
<circle cx="349.22" cy="347.58" r="2.4"/>
<circle cx="350.99" cy="347.15" r="2.4"/>
<circle cx="352.76" cy="346.86" r="2.4"/>
<circle cx="354.53" cy="347.01" r="2.4"/>
<circle cx="356.3" cy="346.8" r="2.4"/>
<circle cx="358.07" cy="347.09" r="2.4"/>
<circle cx="359.84" cy="347.63" r="2.4"/>
<circle cx="361.61" cy="347.53" r="2.4"/>
<circle cx="363.38" cy="347.51" r="2.4"/>
<circle cx="365.15" cy="347.64" r="2.4"/>
<circle cx="366.92" cy="347.47" r="2.4"/>
<circle cx="368.69" cy="347.21" r="2.4"/>
<circle cx="370.46" cy="347.55" r="2.4"/>
<circle cx="372.23" cy="347.93" r="2.4"/>
<circle cx="374" cy="347.47" r="2.4"/>
<circle cx="375.77" cy="347.26" r="2.4"/>
<circle cx="377.54" cy="347.92" r="2.4"/>
<circle cx="379.31" cy="348.35" r="2.4"/>
<circle cx="381.08" cy="347.84" r="2.4"/>
<circle cx="382.85" cy="346.96" r="2.4"/>
<circle cx="384.62" cy="346.8" r="2.4"/>
<circle cx="386.39" cy="347.11" r="2.4"/>
<circle cx="388.16" cy="347.11" r="2.4"/>
<circle cx="389.93" cy="347.43" r="2.4"/>
<circle cx="391.7" cy="348.43" r="2.4"/>
<circle cx="393.47" cy="348.85" r="2.4"/>
<circle cx="395.24" cy="348.37" r="2.4"/>
<circle cx="397.01" cy="348.31" r="2.4"/>
<circle cx="398.78" cy="348.84" r="2.4"/>
<circle cx="400.55" cy="349.13" r="2.4"/>
<circle cx="402.32" cy="349" r="2.4"/>
<circle cx="404.09" cy="349.01" r="2.4"/>
<circle cx="405.86" cy="349.33" r="2.4"/>
<circle cx="407.63" cy="349.42" r="2.4"/>
<circle cx="409.4" cy="348.96" r="2.4"/>
<circle cx="411.17" cy="348.56" r="2.4"/>
<circle cx="412.94" cy="348.99" r="2.4"/>
<circle cx="414.71" cy="349.75" r="2.4"/>
<circle cx="416.48" cy="349.97" r="2.4"/>
<circle cx="418.25" cy="350.01" r="2.4"/>
<circle cx="420.02" cy="350.37" r="2.4"/>
<circle cx="421.79" cy="350.46" r="2.4"/>
<circle cx="423.56" cy="350.47" r="2.4"/>
<circle cx="425.33" cy="350.72" r="2.4"/>
<circle cx="427.1" cy="350.69" r="2.4"/>
<circle cx="428.87" cy="350.47" r="2.4"/>
<circle cx="430.64" cy="350.14" r="2.4"/>
<circle cx="432.41" cy="349.96" r="2.4"/>
<circle cx="434.18" cy="350.1" r="2.4"/>
<circle cx="435.95" cy="350.46" r="2.4"/>
<circle cx="437.72" cy="350.8" r="2.4"/>
<circle cx="439.49" cy="350.94" r="2.4"/>
<circle cx="441.26" cy="351.15" r="2.4"/>
<circle cx="443.03" cy="351.35" r="2.4"/>
<circle cx="444.8" cy="351.58" r="2.4"/>
<circle cx="446.57" cy="351.99" r="2.4"/>
<circle cx="448.34" cy="352.47" r="2.4"/>
<circle cx="450.11" cy="352.1" r="2.4"/>
<circle cx="451.88" cy="351.6" r="2.4"/>
<circle cx="453.65" cy="351.97" r="2.4"/>
<circle cx="455.42" cy="352.03" r="2.4"/>
<circle cx="457.19" cy="351.88" r="2.4"/>
<circle cx="458.96" cy="352.17" r="2.4"/>
<circle cx="460.73" cy="352.6" r="2.4"/>
<circle cx="462.5" cy="353.21" r="2.4"/>
<circle cx="464.27" cy="354.13" r="2.4"/>
<circle cx="466.04" cy="354.68" r="2.4"/>
<circle cx="467.81" cy="354.81" r="2.4"/>
<circle cx="469.58" cy="355.12" r="2.4"/>
<circle cx="471.35" cy="355.53" r="2.4"/>
<circle cx="473.12" cy="355.57" r="2.4"/>
<circle cx="474.89" cy="355.6" r="2.4"/>
<circle cx="476.66" cy="355.74" r="2.4"/>
<circle cx="478.43" cy="356.26" r="2.4"/>
<circle cx="480.2" cy="357.06" r="2.4"/>
<circle cx="481.97" cy="358.03" r="2.4"/>
<circle cx="483.74" cy="359.2" r="2.4"/>
<circle cx="485.51" cy="360.68" r="2.4"/>
<circle cx="487.28" cy="362.68" r="2.4"/>
<circle cx="489.05" cy="365.23" r="2.4"/>
<circle cx="490.82" cy="368.24" r="2.4"/>
<circle cx="492.59" cy="372.56" r="2.4"/>
<circle cx="494.36" cy="377.46" r="2.4"/>
<circle cx="496.13" cy="384.49" r="2.4"/>
<circle cx="497.9" cy="391.53" r="2.4"/>
<circle cx="499.67" cy="402.66" r="2.4"/>
<circle cx="501.44" cy="414.01" r="2.4"/>
<circle cx="503.21" cy="429.3" r="2.4"/>
<circle cx="504.98" cy="445.88" r="2.4"/>
<circle cx="506.75" cy="466.57" r="2.4"/>
<circle cx="508.52" cy="490.65" r="2.4"/>
<circle cx="510.29" cy="523.16" r="2.4"/>
<circle cx="512.06" cy="557.81" r="2.4"/>
</g></g>
<g clip-path="url(#clipeplot)">
<polyline points="331.35,425.31 334.89,425.29 338.43,425.34 341.97,425.31 345.51,425.36 349.05,425.41 352.59,425.41 356.13,425.56 359.67,425.76 363.21,425.9 366.75,425.83 370.29,425.62 373.83,425.66 377.37,425.67 380.91,425.52 384.45,425.57 387.99,425.64 391.53,425.55 395.07,425.41 398.61,425.31 402.15,425.36 405.69,425.47 409.23,425.52 412.77,425.49 416.31,425.49 419.85,425.55 423.39,425.4 426.93,425.04 430.47,425.03 434.01,425.42 437.55,425.63 441.09,425.47 444.63,425.19 448.17,425.21 451.71,425.41 455.25,425.46 458.79,425.48 462.33,425.35 465.87,425.1 469.41,425.08 472.95,425.21 476.49,425.1 480.03,424.92 483.57,425.06 487.11,425.32 490.65,425.16 494.19,424.91 497.73,424.9 501.27,424.85 504.81,424.77 508.35,424.73 511.89,424.85 515.43,425.05 518.97,425.07 522.51,424.95 526.05,424.64 529.59,424.3 533.13,424.2 536.67,424.26 540.21,424.42 543.75,424.57 547.29,424.65 550.83,424.73 554.37,424.92 557.91,425.32 561.45,425.82 564.99,425.87 568.53,426.12 572.07,426.68 575.61,427.39 579.15,428.57 582.69,430.46 586.23,433.58 589.77,439.28 593.31,447 596.85,460.42 600.39,482.5 603.93,508.93 607.47,542.65 611.01,578.32 611.14,579.76 611.28,581.21 611.41,582.68 611.55,584.15" fill="none" stroke="#e8861c" stroke-width="1.6" stroke-linejoin="round"/>
<g fill="#fff" stroke="#e8861c" stroke-width="1.4">
<circle cx="331.35" cy="425.31" r="2.4"/>
<circle cx="334.89" cy="425.29" r="2.4"/>
<circle cx="338.43" cy="425.34" r="2.4"/>
<circle cx="341.97" cy="425.31" r="2.4"/>
<circle cx="345.51" cy="425.36" r="2.4"/>
<circle cx="349.05" cy="425.41" r="2.4"/>
<circle cx="352.59" cy="425.41" r="2.4"/>
<circle cx="356.13" cy="425.56" r="2.4"/>
<circle cx="359.67" cy="425.76" r="2.4"/>
<circle cx="363.21" cy="425.9" r="2.4"/>
<circle cx="366.75" cy="425.83" r="2.4"/>
<circle cx="370.29" cy="425.62" r="2.4"/>
<circle cx="373.83" cy="425.66" r="2.4"/>
<circle cx="377.37" cy="425.67" r="2.4"/>
<circle cx="380.91" cy="425.52" r="2.4"/>
<circle cx="384.45" cy="425.57" r="2.4"/>
<circle cx="387.99" cy="425.64" r="2.4"/>
<circle cx="391.53" cy="425.55" r="2.4"/>
<circle cx="395.07" cy="425.41" r="2.4"/>
<circle cx="398.61" cy="425.31" r="2.4"/>
<circle cx="402.15" cy="425.36" r="2.4"/>
<circle cx="405.69" cy="425.47" r="2.4"/>
<circle cx="409.23" cy="425.52" r="2.4"/>
<circle cx="412.77" cy="425.49" r="2.4"/>
<circle cx="416.31" cy="425.49" r="2.4"/>
<circle cx="419.85" cy="425.55" r="2.4"/>
<circle cx="423.39" cy="425.4" r="2.4"/>
<circle cx="426.93" cy="425.04" r="2.4"/>
<circle cx="430.47" cy="425.03" r="2.4"/>
<circle cx="434.01" cy="425.42" r="2.4"/>
<circle cx="437.55" cy="425.63" r="2.4"/>
<circle cx="441.09" cy="425.47" r="2.4"/>
<circle cx="444.63" cy="425.19" r="2.4"/>
<circle cx="448.17" cy="425.21" r="2.4"/>
<circle cx="451.71" cy="425.41" r="2.4"/>
<circle cx="455.25" cy="425.46" r="2.4"/>
<circle cx="458.79" cy="425.48" r="2.4"/>
<circle cx="462.33" cy="425.35" r="2.4"/>
<circle cx="465.87" cy="425.1" r="2.4"/>
<circle cx="469.41" cy="425.08" r="2.4"/>
<circle cx="472.95" cy="425.21" r="2.4"/>
<circle cx="476.49" cy="425.1" r="2.4"/>
<circle cx="480.03" cy="424.92" r="2.4"/>
<circle cx="483.57" cy="425.06" r="2.4"/>
<circle cx="487.11" cy="425.32" r="2.4"/>
<circle cx="490.65" cy="425.16" r="2.4"/>
<circle cx="494.19" cy="424.91" r="2.4"/>
<circle cx="497.73" cy="424.9" r="2.4"/>
<circle cx="501.27" cy="424.85" r="2.4"/>
<circle cx="504.81" cy="424.77" r="2.4"/>
<circle cx="508.35" cy="424.73" r="2.4"/>
<circle cx="511.89" cy="424.85" r="2.4"/>
<circle cx="515.43" cy="425.05" r="2.4"/>
<circle cx="518.97" cy="425.07" r="2.4"/>
<circle cx="522.51" cy="424.95" r="2.4"/>
<circle cx="526.05" cy="424.64" r="2.4"/>
<circle cx="529.59" cy="424.3" r="2.4"/>
<circle cx="533.13" cy="424.2" r="2.4"/>
<circle cx="536.67" cy="424.26" r="2.4"/>
<circle cx="540.21" cy="424.42" r="2.4"/>
<circle cx="543.75" cy="424.57" r="2.4"/>
<circle cx="547.29" cy="424.65" r="2.4"/>
<circle cx="550.83" cy="424.73" r="2.4"/>
<circle cx="554.37" cy="424.92" r="2.4"/>
<circle cx="557.91" cy="425.32" r="2.4"/>
<circle cx="561.45" cy="425.82" r="2.4"/>
<circle cx="564.99" cy="425.87" r="2.4"/>
<circle cx="568.53" cy="426.12" r="2.4"/>
<circle cx="572.07" cy="426.68" r="2.4"/>
<circle cx="575.61" cy="427.39" r="2.4"/>
<circle cx="579.15" cy="428.57" r="2.4"/>
<circle cx="582.69" cy="430.46" r="2.4"/>
<circle cx="586.23" cy="433.58" r="2.4"/>
<circle cx="589.77" cy="439.28" r="2.4"/>
<circle cx="593.31" cy="447" r="2.4"/>
<circle cx="596.85" cy="460.42" r="2.4"/>
<circle cx="600.39" cy="482.5" r="2.4"/>
<circle cx="603.93" cy="508.93" r="2.4"/>
<circle cx="607.47" cy="542.65" r="2.4"/>
<circle cx="611.01" cy="578.32" r="2.4"/>
</g></g>
<g clip-path="url(#clipeplot)">
<polyline points="330.99,439.83 334.53,439.78 338.07,439.88 341.61,440.09 345.15,440.31 348.69,440.39 352.23,440.31 355.77,440.25 359.31,440.24 362.85,440.23 366.39,440.23 369.93,440.19 373.47,440.13 377.01,440.13 380.55,440.2 384.09,440.31 387.63,440.28 391.17,440.19 394.71,440.31 398.25,440.49 401.79,440.41 405.33,440.27 408.87,440.37 412.41,440.5 415.95,440.53 419.49,440.49 423.03,440.33 426.57,440.22 430.11,440.22 433.65,440.26 437.19,440.42 440.73,440.47 444.27,440.34 447.81,440.18 451.35,440.16 454.89,440.32 458.43,440.41 461.97,440.36 465.51,440.23 469.05,440.29 472.59,440.42 476.13,440.31 479.67,440.28 483.21,440.43 486.75,440.36 490.29,440.15 493.83,440.09 497.37,440.29 500.91,440.47 504.45,440.47 507.99,440.41 511.53,440.38 515.07,440.45 518.61,440.48 522.15,440.43 525.69,440.41 529.23,440.23 532.77,440.06 536.31,440.12 539.85,440.27 543.39,440.28 546.93,440.25 550.47,440.29 554.01,440.4 557.55,440.54 561.09,440.52 564.63,440.37 568.17,440.34 571.71,440.34 575.25,440.23 578.79,440.11 582.33,440.1 585.87,440.17 589.41,440.11 592.95,439.97 596.49,439.93 600.03,439.92 603.57,439.85 607.11,439.72 610.65,439.6 614.19,439.61 617.73,439.73 621.27,439.75 624.81,439.66 628.35,439.63 631.89,439.6 635.43,439.64 638.97,439.73 642.51,439.8 646.05,440.03 649.59,440.34 653.13,440.57 656.67,440.96 660.21,441.31 663.75,441.61 667.29,442.03 670.83,442.15 674.37,442.34 677.91,442.5 681.45,442.67 684.99,442.88 688.53,443.19 692.07,443.98 695.61,444.76 699.15,445.7 702.69,447.12 706.23,448.71 709.77,450.88 713.31,453.53 716.85,456.73 720.39,460.69 723.93,465.98 727.47,472.38 731.01,480.53 734.55,490.58 738.09,503.73 741.63,521.39 745.17,546.76 748.71,573.41 748.85,574.48 748.98,575.56 749.12,576.64 749.26,577.74 749.39,578.84 749.53,579.95 749.67,581.07 749.8,582.19 749.94,583.33" fill="none" stroke="#a5301f" stroke-width="1.6" stroke-linejoin="round"/>
<g fill="#fff" stroke="#a5301f" stroke-width="1.4">
<circle cx="330.99" cy="439.83" r="2.4"/>
<circle cx="334.53" cy="439.78" r="2.4"/>
<circle cx="338.07" cy="439.88" r="2.4"/>
<circle cx="341.61" cy="440.09" r="2.4"/>
<circle cx="345.15" cy="440.31" r="2.4"/>
<circle cx="348.69" cy="440.39" r="2.4"/>
<circle cx="352.23" cy="440.31" r="2.4"/>
<circle cx="355.77" cy="440.25" r="2.4"/>
<circle cx="359.31" cy="440.24" r="2.4"/>
<circle cx="362.85" cy="440.23" r="2.4"/>
<circle cx="366.39" cy="440.23" r="2.4"/>
<circle cx="369.93" cy="440.19" r="2.4"/>
<circle cx="373.47" cy="440.13" r="2.4"/>
<circle cx="377.01" cy="440.13" r="2.4"/>
<circle cx="380.55" cy="440.2" r="2.4"/>
<circle cx="384.09" cy="440.31" r="2.4"/>
<circle cx="387.63" cy="440.28" r="2.4"/>
<circle cx="391.17" cy="440.19" r="2.4"/>
<circle cx="394.71" cy="440.31" r="2.4"/>
<circle cx="398.25" cy="440.49" r="2.4"/>
<circle cx="401.79" cy="440.41" r="2.4"/>
<circle cx="405.33" cy="440.27" r="2.4"/>
<circle cx="408.87" cy="440.37" r="2.4"/>
<circle cx="412.41" cy="440.5" r="2.4"/>
<circle cx="415.95" cy="440.53" r="2.4"/>
<circle cx="419.49" cy="440.49" r="2.4"/>
<circle cx="423.03" cy="440.33" r="2.4"/>
<circle cx="426.57" cy="440.22" r="2.4"/>
<circle cx="430.11" cy="440.22" r="2.4"/>
<circle cx="433.65" cy="440.26" r="2.4"/>
<circle cx="437.19" cy="440.42" r="2.4"/>
<circle cx="440.73" cy="440.47" r="2.4"/>
<circle cx="444.27" cy="440.34" r="2.4"/>
<circle cx="447.81" cy="440.18" r="2.4"/>
<circle cx="451.35" cy="440.16" r="2.4"/>
<circle cx="454.89" cy="440.32" r="2.4"/>
<circle cx="458.43" cy="440.41" r="2.4"/>
<circle cx="461.97" cy="440.36" r="2.4"/>
<circle cx="465.51" cy="440.23" r="2.4"/>
<circle cx="469.05" cy="440.29" r="2.4"/>
<circle cx="472.59" cy="440.42" r="2.4"/>
<circle cx="476.13" cy="440.31" r="2.4"/>
<circle cx="479.67" cy="440.28" r="2.4"/>
<circle cx="483.21" cy="440.43" r="2.4"/>
<circle cx="486.75" cy="440.36" r="2.4"/>
<circle cx="490.29" cy="440.15" r="2.4"/>
<circle cx="493.83" cy="440.09" r="2.4"/>
<circle cx="497.37" cy="440.29" r="2.4"/>
<circle cx="500.91" cy="440.47" r="2.4"/>
<circle cx="504.45" cy="440.47" r="2.4"/>
<circle cx="507.99" cy="440.41" r="2.4"/>
<circle cx="511.53" cy="440.38" r="2.4"/>
<circle cx="515.07" cy="440.45" r="2.4"/>
<circle cx="518.61" cy="440.48" r="2.4"/>
<circle cx="522.15" cy="440.43" r="2.4"/>
<circle cx="525.69" cy="440.41" r="2.4"/>
<circle cx="529.23" cy="440.23" r="2.4"/>
<circle cx="532.77" cy="440.06" r="2.4"/>
<circle cx="536.31" cy="440.12" r="2.4"/>
<circle cx="539.85" cy="440.27" r="2.4"/>
<circle cx="543.39" cy="440.28" r="2.4"/>
<circle cx="546.93" cy="440.25" r="2.4"/>
<circle cx="550.47" cy="440.29" r="2.4"/>
<circle cx="554.01" cy="440.4" r="2.4"/>
<circle cx="557.55" cy="440.54" r="2.4"/>
<circle cx="561.09" cy="440.52" r="2.4"/>
<circle cx="564.63" cy="440.37" r="2.4"/>
<circle cx="568.17" cy="440.34" r="2.4"/>
<circle cx="571.71" cy="440.34" r="2.4"/>
<circle cx="575.25" cy="440.23" r="2.4"/>
<circle cx="578.79" cy="440.11" r="2.4"/>
<circle cx="582.33" cy="440.1" r="2.4"/>
<circle cx="585.87" cy="440.17" r="2.4"/>
<circle cx="589.41" cy="440.11" r="2.4"/>
<circle cx="592.95" cy="439.97" r="2.4"/>
<circle cx="596.49" cy="439.93" r="2.4"/>
<circle cx="600.03" cy="439.92" r="2.4"/>
<circle cx="603.57" cy="439.85" r="2.4"/>
<circle cx="607.11" cy="439.72" r="2.4"/>
<circle cx="610.65" cy="439.6" r="2.4"/>
<circle cx="614.19" cy="439.61" r="2.4"/>
<circle cx="617.73" cy="439.73" r="2.4"/>
<circle cx="621.27" cy="439.75" r="2.4"/>
<circle cx="624.81" cy="439.66" r="2.4"/>
<circle cx="628.35" cy="439.63" r="2.4"/>
<circle cx="631.89" cy="439.6" r="2.4"/>
<circle cx="635.43" cy="439.64" r="2.4"/>
<circle cx="638.97" cy="439.73" r="2.4"/>
<circle cx="642.51" cy="439.8" r="2.4"/>
<circle cx="646.05" cy="440.03" r="2.4"/>
<circle cx="649.59" cy="440.34" r="2.4"/>
<circle cx="653.13" cy="440.57" r="2.4"/>
<circle cx="656.67" cy="440.96" r="2.4"/>
<circle cx="660.21" cy="441.31" r="2.4"/>
<circle cx="663.75" cy="441.61" r="2.4"/>
<circle cx="667.29" cy="442.03" r="2.4"/>
<circle cx="670.83" cy="442.15" r="2.4"/>
<circle cx="674.37" cy="442.34" r="2.4"/>
<circle cx="677.91" cy="442.5" r="2.4"/>
<circle cx="681.45" cy="442.67" r="2.4"/>
<circle cx="684.99" cy="442.88" r="2.4"/>
<circle cx="688.53" cy="443.19" r="2.4"/>
<circle cx="692.07" cy="443.98" r="2.4"/>
<circle cx="695.61" cy="444.76" r="2.4"/>
<circle cx="699.15" cy="445.7" r="2.4"/>
<circle cx="702.69" cy="447.12" r="2.4"/>
<circle cx="706.23" cy="448.71" r="2.4"/>
<circle cx="709.77" cy="450.88" r="2.4"/>
<circle cx="713.31" cy="453.53" r="2.4"/>
<circle cx="716.85" cy="456.73" r="2.4"/>
<circle cx="720.39" cy="460.69" r="2.4"/>
<circle cx="723.93" cy="465.98" r="2.4"/>
<circle cx="727.47" cy="472.38" r="2.4"/>
<circle cx="731.01" cy="480.53" r="2.4"/>
<circle cx="734.55" cy="490.58" r="2.4"/>
<circle cx="738.09" cy="503.73" r="2.4"/>
<circle cx="741.63" cy="521.39" r="2.4"/>
<circle cx="745.17" cy="546.76" r="2.4"/>
<circle cx="748.71" cy="573.41" r="2.4"/>
</g></g>
<line x1="382.4" y1="467.7" x2="408" y2="467.7" stroke="#3b729b" stroke-width="1.5"/>
<circle cx="395.2" cy="467.7" r="2.5" fill="#fff" stroke="#3b729b" stroke-width="1.4"/>
<text x="411.4" y="471.8" font-size="11.7" fill="#3b729b">Organic</text>
<text x="382.4" y="485.8" font-size="11.5" fill="#3b729b"><tspan font-style="italic">V</tspan><tspan font-size="8.2" dy="3.2">OC</tspan><tspan dy="-3.2">: 0.82 V</tspan></text>
<text x="382.4" y="503.8" font-size="11.5" fill="#3b729b"><tspan font-style="italic">J</tspan><tspan font-size="8.2" dy="3.2">SC</tspan><tspan dy="-3.2">: 28.60 mA cm</tspan><tspan font-size="7.6" dy="-4.4">-2</tspan></text>
<text x="382.4" y="520.6" font-size="11.5" fill="#3b729b">FF: 76.5%</text>
<text x="382.4" y="535.4" font-size="11.5" fill="#3b729b">PCE: 17.9%</text>
<line x1="525" y1="348.9" x2="550.6" y2="348.9" stroke="#e07f1c" stroke-width="1.5"/>
<circle cx="537.8" cy="348.9" r="2.5" fill="#fff" stroke="#e07f1c" stroke-width="1.4"/>
<text x="554" y="353" font-size="11.7" fill="#e07f1c">Perovskite</text>
<text x="525" y="367.4" font-size="11.5" fill="#e07f1c"><tspan font-style="italic">V</tspan><tspan font-size="8.2" dy="3.2">OC</tspan><tspan dy="-3.2">: 1.37 V</tspan></text>
<text x="525" y="385.8" font-size="11.5" fill="#e07f1c"><tspan font-style="italic">J</tspan><tspan font-size="8.2" dy="3.2">SC</tspan><tspan dy="-3.2">: 17.45 mA cm</tspan><tspan font-size="7.6" dy="-4.4">-2</tspan></text>
<text x="525" y="402.3" font-size="11.5" fill="#e07f1c">FF: 85.5%</text>
<text x="525" y="416.6" font-size="11.5" fill="#e07f1c">PCE: 20.4%</text>
<line x1="672" y1="360.8" x2="697.6" y2="360.8" stroke="#a83a2c" stroke-width="1.5"/>
<circle cx="684.8" cy="360.8" r="2.5" fill="#fff" stroke="#a83a2c" stroke-width="1.4"/>
<text x="701" y="364.9" font-size="11.7" fill="#a83a2c">Tandem</text>
<text x="672" y="379.4" font-size="11.5" fill="#a83a2c"><tspan font-style="italic">V</tspan><tspan font-size="8.2" dy="3.2">OC</tspan><tspan dy="-3.2">: 2.14 V</tspan></text>
<text x="672" y="397.8" font-size="11.5" fill="#a83a2c"><tspan font-style="italic">J</tspan><tspan font-size="8.2" dy="3.2">SC</tspan><tspan dy="-3.2">: 15.37 mA cm</tspan><tspan font-size="7.6" dy="-4.4">-2</tspan></text>
<text x="672" y="414.2" font-size="11.5" fill="#a83a2c">FF: 83.7%</text>
<text x="672" y="428" font-size="11.5" fill="#a83a2c">PCE: 27.5%</text>
</g>
<text x="303.6" y="316" font-size="27.5" fill="#000" font-weight="bold">(e)</text>
<rect x="791.2" y="316.3" width="427" height="320" fill="#fff"/>
<line x1="790.7" y1="337.6" x2="790.7" y2="583.4" stroke="#d6d6d6" stroke-width="1"/>
<g id="panel-f">
<rect x="840.8" y="327.5" width="375.4" height="274.1" fill="none" stroke="#5a5a5a" stroke-width="1.25"/>
<line x1="837" y1="601.38" x2="840.8" y2="601.38" stroke="#5a5a5a" stroke-width="1.1"/>
<text x="834.2" y="605.48" font-size="11.5" fill="#222" text-anchor="end">-5</text>
<line x1="837" y1="541.6" x2="840.8" y2="541.6" stroke="#5a5a5a" stroke-width="1.1"/>
<text x="834.2" y="545.7" font-size="11.5" fill="#222" text-anchor="end">0</text>
<line x1="837" y1="481.83" x2="840.8" y2="481.83" stroke="#5a5a5a" stroke-width="1.1"/>
<text x="834.2" y="485.93" font-size="11.5" fill="#222" text-anchor="end">5</text>
<line x1="837" y1="422.05" x2="840.8" y2="422.05" stroke="#5a5a5a" stroke-width="1.1"/>
<text x="834.2" y="426.15" font-size="11.5" fill="#222" text-anchor="end">10</text>
<line x1="837" y1="362.28" x2="840.8" y2="362.28" stroke="#5a5a5a" stroke-width="1.1"/>
<text x="834.2" y="366.38" font-size="11.5" fill="#222" text-anchor="end">15</text>
<line x1="838.8" y1="571.49" x2="840.8" y2="571.49" stroke="#5a5a5a" stroke-width="1"/>
<line x1="838.8" y1="511.71" x2="840.8" y2="511.71" stroke="#5a5a5a" stroke-width="1"/>
<line x1="838.8" y1="451.94" x2="840.8" y2="451.94" stroke="#5a5a5a" stroke-width="1"/>
<line x1="838.8" y1="392.16" x2="840.8" y2="392.16" stroke="#5a5a5a" stroke-width="1"/>
<line x1="838.8" y1="332.39" x2="840.8" y2="332.39" stroke="#5a5a5a" stroke-width="1"/>
<line x1="871.8" y1="601.6" x2="871.8" y2="605.2" stroke="#5a5a5a" stroke-width="1.1"/>
<text x="871.8" y="617.8" font-size="11.5" fill="#222" text-anchor="middle">0.0</text>
<line x1="950.1" y1="601.6" x2="950.1" y2="605.2" stroke="#5a5a5a" stroke-width="1.1"/>
<text x="950.1" y="617.8" font-size="11.5" fill="#222" text-anchor="middle">0.5</text>
<line x1="1028.4" y1="601.6" x2="1028.4" y2="605.2" stroke="#5a5a5a" stroke-width="1.1"/>
<text x="1028.4" y="617.8" font-size="11.5" fill="#222" text-anchor="middle">1.0</text>
<line x1="1106.7" y1="601.6" x2="1106.7" y2="605.2" stroke="#5a5a5a" stroke-width="1.1"/>
<text x="1106.7" y="617.8" font-size="11.5" fill="#222" text-anchor="middle">1.5</text>
<line x1="1185" y1="601.6" x2="1185" y2="605.2" stroke="#5a5a5a" stroke-width="1.1"/>
<text x="1185" y="617.8" font-size="11.5" fill="#222" text-anchor="middle">2.0</text>
<line x1="910.95" y1="601.6" x2="910.95" y2="603.6" stroke="#5a5a5a" stroke-width="1"/>
<line x1="989.25" y1="601.6" x2="989.25" y2="603.6" stroke="#5a5a5a" stroke-width="1"/>
<line x1="1067.55" y1="601.6" x2="1067.55" y2="603.6" stroke="#5a5a5a" stroke-width="1"/>
<line x1="1145.85" y1="601.6" x2="1145.85" y2="603.6" stroke="#5a5a5a" stroke-width="1"/>
<text x="0" y="0" font-size="14.6" fill="#111" text-anchor="middle" transform="translate(815.4 464.6) rotate(-90)">Current Density (mA cm<tspan font-size="9.6" dy="-5.2">-2</tspan><tspan dy="5.2">)</tspan></text>
<g clip-path="url(#clipf)">
<polyline points="841,360.25 844.4,360.27 847.8,360.3 847.8,360.3 867.6,360.47 885.1,360.64 901.5,360.82 916,361 929.3,361.18 941.7,361.36 953.3,361.53 963.8,361.68 974,361.8 983.6,361.9 992.4,361.98 1000.9,362.04 1008.9,362.1 1016.7,362.15 1024.2,362.2 1031.2,362.25 1037.8,362.3 1044.5,362.35 1050.7,362.41 1056.6,362.46 1062.3,362.5 1067.7,362.55 1073,362.6 1078.1,362.65 1083.2,362.71 1088,362.77 1092.7,362.83 1097.4,362.91 1101.9,362.99 1106.2,363.1 1110.5,363.22 1114.6,363.35 1118.7,363.5 1122.6,363.66 1126.5,363.83 1130.4,364.02 1134.2,364.27 1137.9,364.58 1141.6,364.9 1145.1,365.18 1148.4,365.5 1151.6,366.02 1154.7,366.7 1157.8,367.58 1160.6,368.6 1163.5,370.01 1166.1,371.6 1168.8,373.65 1171.4,376.1 1174.1,379.29 1176.6,382.9 1179.2,387.41 1181.9,393.1 1184.5,399.76 1187.2,408.2 1189.8,418.15 1192.5,430.9 1194.9,445.13 1197.6,464.8 1200,487.2 1202.4,515.2 1204.9,550.4 1207,593.7 1207.3,600.94 1207.5,606" fill="none" stroke="#a5301f" stroke-width="1.7" stroke-linejoin="round"/>
<g fill="#fff" stroke="#a5301f" stroke-width="1.55">
<circle cx="847.8" cy="360.3" r="3.0"/>
<circle cx="867.6" cy="360.47" r="3.0"/>
<circle cx="885.1" cy="360.64" r="3.0"/>
<circle cx="901.5" cy="360.82" r="3.0"/>
<circle cx="916" cy="361" r="3.0"/>
<circle cx="929.3" cy="361.18" r="3.0"/>
<circle cx="941.7" cy="361.36" r="3.0"/>
<circle cx="953.3" cy="361.53" r="3.0"/>
<circle cx="963.8" cy="361.68" r="3.0"/>
<circle cx="974" cy="361.8" r="3.0"/>
<circle cx="983.6" cy="361.9" r="3.0"/>
<circle cx="992.4" cy="361.98" r="3.0"/>
<circle cx="1000.9" cy="362.04" r="3.0"/>
<circle cx="1008.9" cy="362.1" r="3.0"/>
<circle cx="1016.7" cy="362.15" r="3.0"/>
<circle cx="1024.2" cy="362.2" r="3.0"/>
<circle cx="1031.2" cy="362.25" r="3.0"/>
<circle cx="1037.8" cy="362.3" r="3.0"/>
<circle cx="1044.5" cy="362.35" r="3.0"/>
<circle cx="1050.7" cy="362.41" r="3.0"/>
<circle cx="1056.6" cy="362.46" r="3.0"/>
<circle cx="1062.3" cy="362.5" r="3.0"/>
<circle cx="1067.7" cy="362.55" r="3.0"/>
<circle cx="1073" cy="362.6" r="3.0"/>
<circle cx="1078.1" cy="362.65" r="3.0"/>
<circle cx="1083.2" cy="362.71" r="3.0"/>
<circle cx="1088" cy="362.77" r="3.0"/>
<circle cx="1092.7" cy="362.83" r="3.0"/>
<circle cx="1097.4" cy="362.91" r="3.0"/>
<circle cx="1101.9" cy="362.99" r="3.0"/>
<circle cx="1106.2" cy="363.1" r="3.0"/>
<circle cx="1110.5" cy="363.22" r="3.0"/>
<circle cx="1114.6" cy="363.35" r="3.0"/>
<circle cx="1118.7" cy="363.5" r="3.0"/>
<circle cx="1122.6" cy="363.66" r="3.0"/>
<circle cx="1126.5" cy="363.83" r="3.0"/>
<circle cx="1130.4" cy="364.02" r="3.0"/>
<circle cx="1134.2" cy="364.27" r="3.0"/>
<circle cx="1137.9" cy="364.58" r="3.0"/>
<circle cx="1141.6" cy="364.9" r="3.0"/>
<circle cx="1145.1" cy="365.18" r="3.0"/>
<circle cx="1148.4" cy="365.5" r="3.0"/>
<circle cx="1151.6" cy="366.02" r="3.0"/>
<circle cx="1154.7" cy="366.7" r="3.0"/>
<circle cx="1157.8" cy="367.58" r="3.0"/>
<circle cx="1160.6" cy="368.6" r="3.0"/>
<circle cx="1163.5" cy="370.01" r="3.0"/>
<circle cx="1166.1" cy="371.6" r="3.0"/>
<circle cx="1168.8" cy="373.65" r="3.0"/>
<circle cx="1171.4" cy="376.1" r="3.0"/>
<circle cx="1174.1" cy="379.29" r="3.0"/>
<circle cx="1176.6" cy="382.9" r="3.0"/>
<circle cx="1179.2" cy="387.41" r="3.0"/>
<circle cx="1181.9" cy="393.1" r="3.0"/>
<circle cx="1184.5" cy="399.76" r="3.0"/>
<circle cx="1187.2" cy="408.2" r="3.0"/>
<circle cx="1189.8" cy="418.15" r="3.0"/>
<circle cx="1192.5" cy="430.9" r="3.0"/>
<circle cx="1194.9" cy="445.13" r="3.0"/>
<circle cx="1197.6" cy="464.8" r="3.0"/>
<circle cx="1200" cy="487.2" r="3.0"/>
<circle cx="1202.4" cy="515.2" r="3.0"/>
<circle cx="1204.9" cy="550.4" r="3.0"/>
<circle cx="1207" cy="593.7" r="3.0"/>
</g></g>
<text x="875.8" y="413.4" font-size="14.3" fill="#b14a3c">Certified PCE</text>
<line x1="876" y1="425.6" x2="907.6" y2="425.6" stroke="#a5301f" stroke-width="1.7"/>
<circle cx="891.6" cy="425.6" r="3.0" fill="#fff" stroke="#a5301f" stroke-width="1.55"/>
<text x="912.2" y="430.7" font-size="14.3" fill="#b14a3c">FS PCE: 26.4%</text>
<line x1="876" y1="443.1" x2="907.6" y2="443.1" stroke="#a5301f" stroke-width="1.6" stroke-dasharray="3.8 5.1"/>
<text x="912.2" y="448.4" font-size="14.3" fill="#b14a3c">RS PCE: 26.4%</text>
<text x="875.6" y="467.2" font-size="14.3" fill="#111">Aperture area: 1.019 cm<tspan font-size="10.4" dy="-6.4">2</tspan></text>
<g id="simit">
<path d="M 1121.69 596.17 C 1117.68 587.1 1111.41 572.41 1110.61 557.72 C 1110.07 541.7 1115.68 523.01 1133.7 521.94 C 1149.06 521.41 1165.08 535.03 1175.49 547.44 C 1163.74 539.7 1151.73 537.03 1143.05 539.7 C 1133.7 543.04 1129.03 555.05 1127.03 567.07 C 1125.69 577.75 1124.76 587.1 1121.69 596.17 Z" fill="#219fe8"/>
<path d="M 1118.35 548.38 C 1122.36 535.03 1135.71 529.69 1149.06 533.02 C 1157.07 535.03 1163.74 539.7 1167.75 543.7 C 1158.4 538.36 1149.06 537.03 1142.38 539.7 C 1133.7 543.04 1129.03 555.05 1127.03 567.07 C 1125.03 559.06 1121.02 555.05 1118.35 548.38 Z" fill="#1787dc" opacity="0.75"/>
<path d="M 1118.35 589.77 C 1114.35 573.74 1114.35 555.05 1118.35 544.37 C 1123.69 533.69 1138.38 529.69 1149.06 531.69 C 1157.07 533.69 1163.74 539.03 1171.76 545.97" fill="none" stroke="#fff" stroke-width="0.75" opacity="0.8" stroke-linecap="round"/>
<path d="M 1121.69 587.1 C 1118.35 572.41 1118.35 557.72 1122.36 547.71 C 1127.03 537.7 1138.38 534.36 1147.72 535.69 C 1155.73 537.03 1161.07 541.03 1166.68 546.51" fill="none" stroke="#fff" stroke-width="0.8" opacity="0.8" stroke-linecap="round"/>
<path d="M 1123.69 581.76 C 1121.69 571.07 1122.36 559.06 1126.36 550.38 C 1131.03 541.7 1139.71 538.36 1147.72 539.03 C 1153.06 539.7 1157.07 543.04 1160.81 547.31" fill="none" stroke="#fff" stroke-width="0.8" opacity="0.8" stroke-linecap="round"/>
<path d="M 1125.03 577.75 C 1124.36 568.4 1125.69 559.06 1129.7 552.38 C 1133.7 545.71 1140.38 541.7 1146.39 542.1 C 1150.39 542.64 1153.06 545.04 1155.47 548.38" fill="none" stroke="#fff" stroke-width="0.7" opacity="0.8" stroke-linecap="round"/>
<path d="M 1172.42 546.78 C 1167.75 543.3 1162.41 540.63 1157.74 539.03 L 1158.4 538.23 C 1163.74 539.83 1168.82 543.04 1173.36 546.78 Z" fill="#fff"/>
<path d="M 1165.35 547.04 C 1161.74 543.84 1157.74 541.7 1153.06 540.63 L 1153.87 539.83 C 1158.67 540.9 1162.68 543.3 1166.68 547.04 Z" fill="#fff"/>
<path d="M 1159.47 547.84 C 1156.4 544.91 1153.33 543.3 1149.73 542.77 L 1150.39 541.97 C 1154.13 542.5 1157.34 544.37 1160.54 547.84 Z" fill="#fff"/>
<path d="M 1141.05 539.3 C 1150.39 536.36 1161.07 539.7 1168.02 547.04 C 1161.07 541.7 1151.73 539.3 1143.05 541.7 Z" fill="#219fe8"/>
<path d="M 1138.38 541.7 C 1146.39 538.5 1155.73 541.17 1161.34 547.84 C 1155.73 543.3 1147.72 541.44 1139.98 544.37 Z" fill="#219fe8"/>
<path d="M 1135.97 544.64 C 1143.72 540.9 1151.06 543.04 1155.73 549.05 C 1151.06 545.17 1144.39 543.57 1137.31 547.58 Z" fill="#219fe8"/>
<polygon points="1151.72,565.23 1190.29,565.23 1189.77,566.84 1151.21,566.84" fill="#1290ec"/>
<polygon points="1151.15,568.1 1155.63,568.1 1150.34,581.55 1145.8,581.55" fill="#1290ec"/>
<polygon points="1157.3,568.1 1161.78,568.1 1162.64,574.83 1168.79,568.1 1173.16,568.1 1167.87,581.55 1163.51,581.55 1166.26,574.43 1161.09,580.29 1159.48,580.29 1158.91,573.97 1156.32,581.55 1152.01,581.55" fill="#1290ec"/>
<polygon points="1174.66,568.1 1179.14,568.1 1173.85,581.55 1169.37,581.55" fill="#1290ec"/>
<polygon points="1180.06,568.1 1189.25,568.1 1188.56,569.94 1186.61,569.94 1182.01,581.55 1176.84,581.55 1181.44,569.94 1179.37,569.94" fill="#1290ec"/>
<text x="0" y="0" font-family="Liberation Serif" font-size="29.5" font-weight="bold" font-style="italic" fill="#1290ec" stroke="#1290ec" stroke-width="0.5" transform="translate(1127.2 581.6) scale(1.42 1)">S</text>
</g>
</g>
<text x="777.6" y="322" font-size="28.5" fill="#000" font-weight="bold">(f)</text>
</svg>
</body></html>
